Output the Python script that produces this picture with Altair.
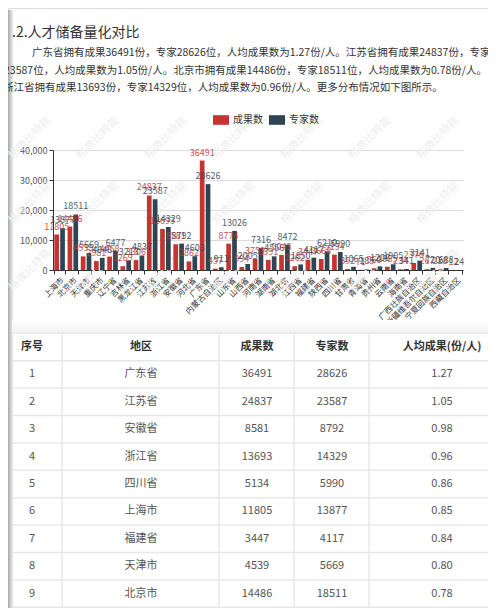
import altair as alt
import pandas as pd

FONT = "Noto Sans CJK SC"

regions = ["上海市", "北京市", "天津市", "重庆市", "辽宁省", "吉林省", "黑龙江省", "江苏省",
           "浙江省", "安徽省", "河北省", "广东省", "内蒙古自治区", "山东省", "山西省", "河南省",
           "湖南省", "湖北省", "江西省", "福建省", "陕西省", "四川省", "甘肃省", "青海省",
           "贵州省", "云南省", "海南省", "广西壮族自治区", "新疆维吾尔自治区", "宁夏回族自治区", "西藏自治区"]
results = [11805, 14486, 4539, 2981, 4458, 1269, 3306, 24837,
           13693, 8581, 2862, 36491, 457, 8774, 994, 3759,
           3391, 5043, 1262, 3447, 3668, 5134, 352, 71,
           560, 1085, 234, 2376, 267, 228, 12]
experts = [13877, 18511, 5669, 4048, 6477, 3213, 4837, 23587,
           14329, 8792, 4603, 28626, 911, 13026, 2005, 7316,
           4556, 8472, 1850, 4117, 6210, 5990, 1065, 185,
           1208, 1905, 341, 3141, 720, 688, 24]
series_names = ["成果数", "专家数"]
series_colors = ["#c23531", "#2f4554"]
y_ticks = [0, 10000, 20000, 30000, 40000]

title_text = ".2.人才储备量化对比"
para_lines = [
    "广东省拥有成果36491份，专家28626位，人均成果数为1.27份/人。江苏省拥有成果24837份，专家",
    "23587位，人均成果数为1.05份/人。北京市拥有成果14486份，专家18511位，人均成果数为0.78份/人。",
    "浙江省拥有成果13693份，专家14329位，人均成果数为0.96份/人。更多分布情况如下图所示。",
]
watermark_text = "格微比特能"
table_headers = ["序号", "地区", "成果数", "专家数", "人均成果(份/人)"]
table_rows_shown = 9

# ---------------- data tables ----------------
long_rows = []
for i, r in enumerate(regions):
    long_rows.append({"region": r, "series": series_names[0], "value": results[i]})
    long_rows.append({"region": r, "series": series_names[1], "value": experts[i]})
bar_df = pd.DataFrame(long_rows)

ratios = [results[i] / experts[i] for i in range(len(regions))]
order = sorted(range(len(regions)), key=lambda i: -ratios[i])[:table_rows_shown]
cell_rows = []
for k, i in enumerate(order, start=1):
    cells = [str(k), regions[i], str(results[i]), str(experts[i]), f"{ratios[i]:.2f}"]
    for c, t in enumerate(cells):
        cell_rows.append({"row": k, "col": table_headers[c], "text": t})
body_df = pd.DataFrame(cell_rows)
head_df = pd.DataFrame({"row": [0] * len(table_headers), "col": table_headers, "text": table_headers})
bound_df = pd.DataFrame({"b": [k - 0.5 for k in range(0, table_rows_shown + 2)]})
one = pd.DataFrame({"a": [0]})

# ---------------- page decoration & header text ----------------
shadow = alt.Chart(one).mark_rect(
    color=alt.LinearGradient(gradient="linear", x1=0, x2=1, y1=0, y2=0,
                             stops=[alt.GradientStop(color="#a8a8a8", offset=0),
                                    alt.GradientStop(color="#ffffff", offset=1)])
).encode(x=alt.value(0), x2=alt.value(6), y=alt.value(2), y2=alt.value(600))

card_gap = alt.Chart(one).mark_rect(
    color=alt.LinearGradient(gradient="linear", x1=0, x2=0, y1=0, y2=1,
                             stops=[alt.GradientStop(color="#ffffff", offset=0),
                                    alt.GradientStop(color="#f1f1f1", offset=1)])
).encode(x=alt.value(4), x2=alt.value(480), y=alt.value(312), y2=alt.value(325))

wm_layers = []
for wy in [130, 195, 262]:
    for wx in [22, 90, 158, 226, 294, 362, 430]:
        wm_layers.append(alt.Chart(one).mark_text(
            text=watermark_text, font=FONT, fontSize=11, color="#eeeeee", angle=315
        ).encode(x=alt.value(wx), y=alt.value(wy)))

title = alt.Chart(one).mark_text(
    text=title_text, font=FONT, fontSize=14, color="#333", align="left", baseline="middle"
).encode(x=alt.value(4), y=alt.value(25))

para_x = [24, -4, -5]
para_y = [45, 63, 80]
paras = [
    alt.Chart(one).mark_text(
        text=line, font=FONT, fontSize=10.5, color="#333", align="left", baseline="middle"
    ).encode(x=alt.value(px), y=alt.value(py))
    for line, px, py in zip(para_lines, para_x, para_y)
]

# ---------------- bar chart ----------------
color_scale = alt.Scale(domain=series_names, range=series_colors)
base = alt.Chart(bar_df).encode(
    x=alt.X("region:N", sort=regions, title=None,
            scale=alt.Scale(range=[45, 455], paddingInner=0.2, paddingOuter=0.1),
            axis=alt.Axis(labelAngle=-45, labelFontSize=8, labelFont=FONT, labelColor="#333",
                          domainColor="#333", tickColor="#333", tickSize=4, tickBand="extent",
                          labelPadding=2, offset=-338, labelOverlap=False, grid=False)),
    xOffset=alt.XOffset("series:N", sort=series_names, scale=alt.Scale(paddingInner=0.2)),
    y=alt.Y("value:Q", title=None,
            scale=alt.Scale(domain=[0, 40000], range=[262, 142]),
            axis=alt.Axis(values=y_ticks, format=",d", labelFontSize=9, labelFont=FONT,
                          labelColor="#555", domainColor="#333", tickColor="#333", tickSize=4,
                          gridColor="#dcdcdc", labelPadding=2, offset=-45)),
    color=alt.Color("series:N", scale=color_scale,
                    legend=alt.Legend(orient="none", legendX=205, legendY=104, direction="horizontal",
                                      title=None, symbolType="M-1,-0.6L1,-0.6L1,0.6L-1,0.6Z",
                                      symbolSize=256, symbolStrokeWidth=0, symbolOpacity=1,
                                      labelFontSize=10, labelFont=FONT, labelColor="#333",
                                      columnPadding=6, labelOffset=4, padding=0)),
)
bars = base.mark_bar()
vlabels = base.mark_text(fontSize=9, font=FONT, baseline="bottom", dy=-3, opacity=0.85).encode(
    text=alt.Text("value:Q", format="d"))
bar_chart = alt.layer(bars, vlabels)

# ---------------- table ----------------
row_scale = alt.Scale(domain=[0, 9], range=[339, 585.6])
col_centers = [24, 133, 249, 324, 434]
hlines = alt.Chart(bound_df).mark_rule(color="#e6e8ec", strokeWidth=1.5).encode(
    y=alt.Y("b:Q", scale=row_scale, axis=None), x=alt.value(4), x2=alt.value(488))
vlines = [
    alt.Chart(one).mark_rule(color="#e6e8ec", strokeWidth=1.5).encode(
        x=alt.value(vx), y=alt.value(325), y2=alt.value(600))
    for vx in [54, 211, 286, 361]
]
cells = []
for c, cx in zip(table_headers, col_centers):
    cells.append(alt.Chart(head_df).transform_filter(alt.datum.col == c).mark_text(
        font=FONT, fontSize=11, fontWeight="bold", color="#333").encode(
        x=alt.value(cx), y=alt.Y("row:Q", scale=row_scale, axis=None), text="text:N"))
    cells.append(alt.Chart(body_df).transform_filter(alt.datum.col == c).mark_text(
        font=FONT, fontSize=11, color="#555").encode(
        x=alt.value(cx), y=alt.Y("row:Q", scale=row_scale, axis=None), text="text:N"))
table = alt.layer(hlines, *vlines, *cells)

chart = alt.layer(
    shadow, card_gap, *wm_layers, title, *paras, bar_chart, table
).resolve_scale(y="independent").properties(
    width=480, height=600, autosize=alt.AutoSizeParams(type="none"), padding=0
).configure_view(stroke=None).configure(background="white")

chart.save("out.html", embed_options={"renderer": "svg", "actions": False})
